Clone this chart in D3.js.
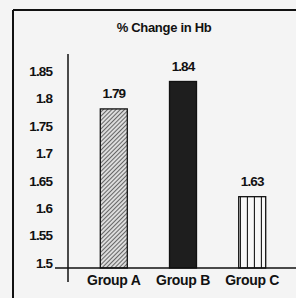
<!DOCTYPE html>
<html>
<head>
<meta charset="utf-8">
<script src="https://cdn.jsdelivr.net/npm/d3@7"></script>
<style>
  body { margin: 0; background: #f4f4f4; }
  svg { display: block; }
  text { font-family: "Liberation Sans", Arial, sans-serif; font-weight: bold; fill: #111; }
</style>
</head>
<body>
<div id="chart"></div>
<script>
// chart data
let groups = ['Group A', 'Group B', 'Group C'];
let values = [1.79, 1.84, 1.63];
let valueLabels = ['1.79', '1.84', '1.63'];
let yTicks = [1.5, 1.55, 1.6, 1.65, 1.7, 1.75, 1.8, 1.85];
let yTickLabels = ['1.5', '1.55', '1.6', '1.65', '1.7', '1.75', '1.8', '1.85'];
let fills = ['url(#hatch)', '#1e1e1e', 'url(#vstripe)'];

let width = 296;
let height = 298;

let svg = d3.select('#chart')
.append('svg')
.attr('width', width)
.attr('height', height);

// paper background
svg.append('rect')
.attr('width', width)
.attr('height', height)
.attr('fill', '#f4f4f4');

let defs = svg.append('defs');

// diagonal hatch for group A
let hatch = defs.append('pattern')
.attr('id', 'hatch')
.attr('patternUnits', 'userSpaceOnUse')
.attr('width', 3)
.attr('height', 3)
.attr('patternTransform', 'rotate(45)');
hatch.append('rect').attr('width', 3).attr('height', 3).attr('fill', '#dcdcdc');
hatch.append('line')
.attr('x1', 0).attr('y1', 0).attr('x2', 0).attr('y2', 3)
.attr('stroke', '#333').attr('stroke-width', 1.4);

// vertical stripes for group C
let vstripe = defs.append('pattern')
.attr('id', 'vstripe')
.attr('patternUnits', 'userSpaceOnUse')
.attr('x', 241)
.attr('width', 7)
.attr('height', 10);
vstripe.append('rect').attr('width', 7).attr('height', 10).attr('fill', '#f8f8f8');
vstripe.append('line')
.attr('x1', 6.5).attr('y1', 0).attr('x2', 6.5).attr('y2', 10)
.attr('stroke', '#222').attr('stroke-width', 1.3);

// frame
svg.append('line')
.attr('x1', 13).attr('y1', 10).attr('x2', width).attr('y2', 10)
.attr('stroke', '#111').attr('stroke-width', 2);
svg.append('line')
.attr('x1', 13).attr('y1', 10).attr('x2', 13).attr('y2', height)
.attr('stroke', '#111').attr('stroke-width', 2);

// title
svg.append('text')
.attr('x', 164)
.attr('y', 27)
.attr('text-anchor', 'middle')
.attr('dominant-baseline', 'central')
.attr('letter-spacing', '-0.3')
.style('font-size', '13px')
.text('% Change in Hb');

let y = d3.scaleLinear()
.domain([1.5, 1.85])
.range([268, 76]);

let x = d3.scaleBand()
.domain(groups)
.range([74, 292])
.paddingInner(0.61)
.paddingOuter(0.38);

// y tick labels (no tick marks in the original)
let yAxis = d3.axisLeft(y)
.tickValues(yTicks)
.tickSize(0)
.tickPadding(0)
.tickFormat(function(d, i) { return yTickLabels[i]; });

let yG = svg.append('g')
.attr('transform', 'translate(52,-5)')
.call(yAxis);
yG.select('.domain').remove();
yG.selectAll('text')
.style('font-size', '13.5px')
.style('font-family', '"Liberation Sans", Arial, sans-serif')
.style('font-weight', 'bold')
.attr('fill', '#111')
.attr('letter-spacing', '-0.9');

// y axis line
svg.append('line')
.attr('x1', 68).attr('y1', 54).attr('x2', 68).attr('y2', 282)
.attr('stroke', '#111').attr('stroke-width', 1.5);

// bars
svg.selectAll('.bar')
.data(values)
.enter()
.append('rect')
.attr('class', 'bar')
.attr('x', function(d, i) { return x(groups[i]); })
.attr('y', function(d) { return y(d); })
.attr('width', x.bandwidth())
.attr('height', function(d) { return y(1.5) - y(d); })
.attr('fill', function(d, i) { return fills[i]; })
.attr('stroke', '#111')
.attr('stroke-width', 1.3);

// baseline
svg.append('line')
.attr('x1', 55).attr('y1', y(1.5)).attr('x2', width).attr('y2', y(1.5))
.attr('stroke', '#111').attr('stroke-width', 1.5);

// value labels
svg.selectAll('.vlabel')
.data(values)
.enter()
.append('text')
.attr('class', 'vlabel')
.attr('x', function(d, i) { return x(groups[i]) + x.bandwidth() / 2; })
.attr('y', function(d) { return y(d) - 15; })
.attr('text-anchor', 'middle')
.attr('dominant-baseline', 'central')
.attr('letter-spacing', '-0.9')
.style('font-size', '13.5px')
.text(function(d, i) { return valueLabels[i]; });

// category labels
let xAxis = d3.axisBottom(x).tickSize(0).tickPadding(0);
let xG = svg.append('g')
.attr('transform', 'translate(0,' + (y(1.5) + 7) + ')')
.call(xAxis);
xG.select('.domain').remove();
xG.selectAll('text')
.style('font-size', '14px')
.style('font-family', '"Liberation Sans", Arial, sans-serif')
.style('font-weight', 'bold')
.attr('fill', '#222')
.attr('letter-spacing', '-0.3');
</script>
</body>
</html>
